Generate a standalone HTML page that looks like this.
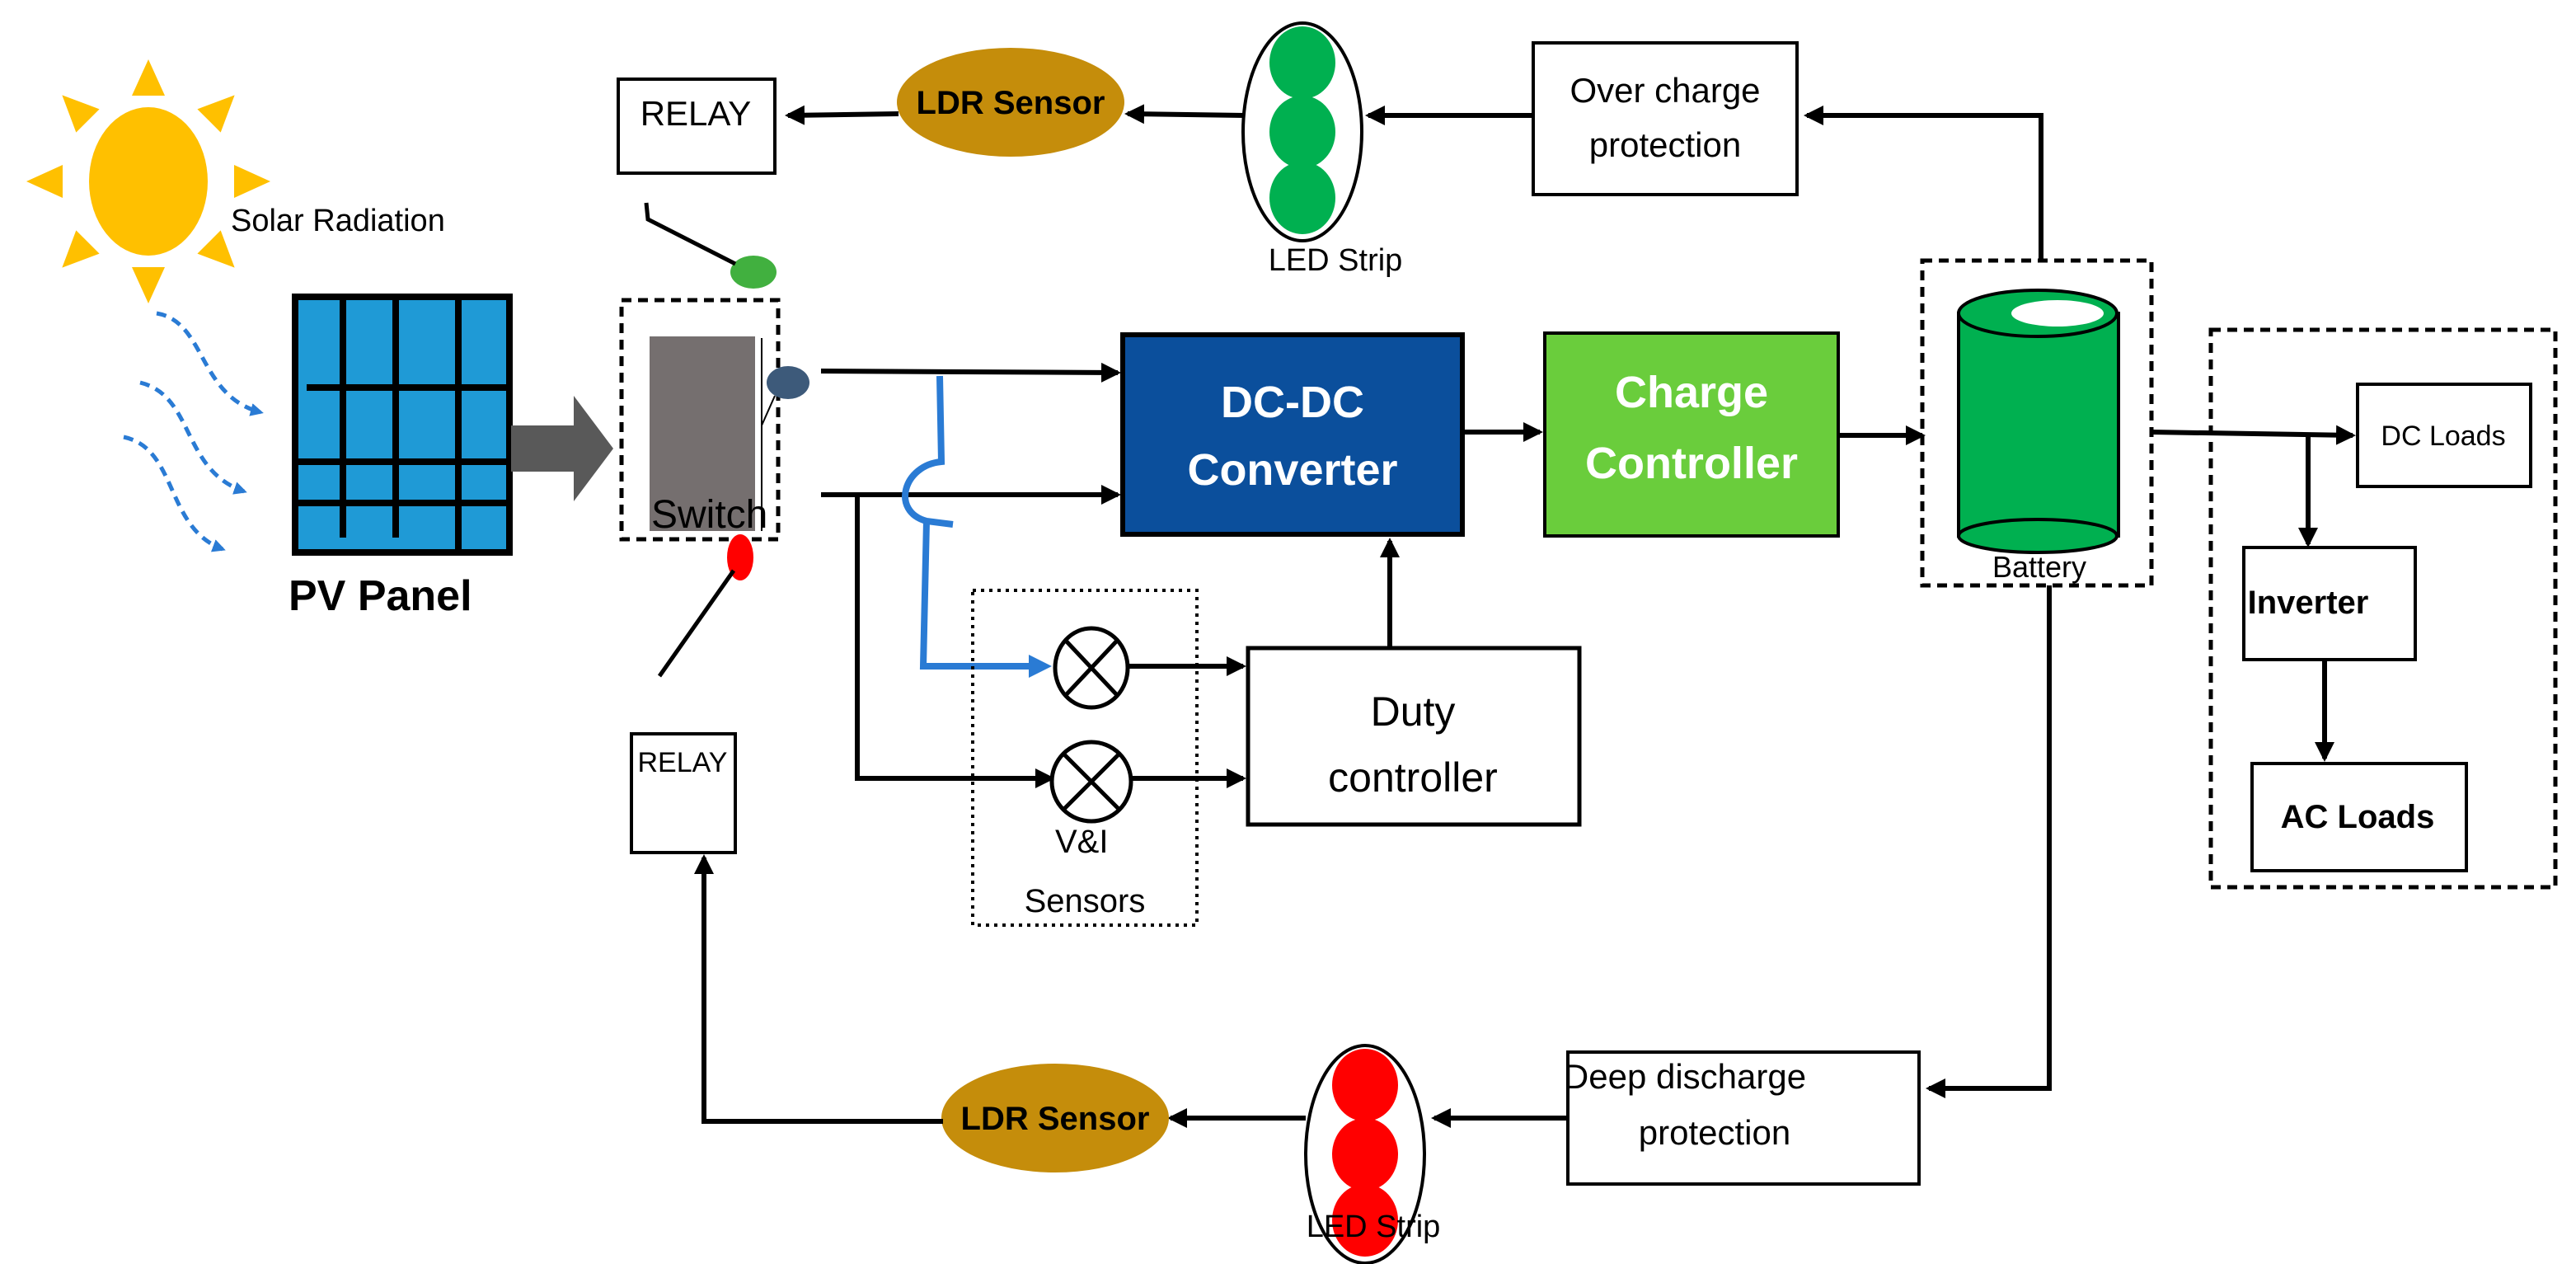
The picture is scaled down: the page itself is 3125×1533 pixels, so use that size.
<!DOCTYPE html>
<html><head><meta charset="utf-8"><style>
html,body{margin:0;padding:0;background:#fff;}
svg{display:block;}
text{font-family:"Liberation Sans",sans-serif;}
</style></head><body>
<svg width="3125" height="1533" viewBox="0 0 1562.5 766.5" xmlns="http://www.w3.org/2000/svg">
<defs>
<marker id="a2" markerWidth="12" markerHeight="12" refX="10" refY="6" orient="auto" markerUnits="userSpaceOnUse"><path d="M0,0 L12,6 L0,12 Z" fill="#000"/></marker>
<marker id="ab" markerWidth="14" markerHeight="14" refX="10" refY="7" orient="auto" markerUnits="userSpaceOnUse"><path d="M0,0 L14,7 L0,14 Z" fill="#2a7bd4"/></marker>
<marker id="as" markerWidth="8" markerHeight="8" refX="6" refY="4" orient="auto" markerUnits="userSpaceOnUse"><path d="M0,0 L8,4 L0,8 Z" fill="#2a7bd4"/></marker>
</defs>
<!-- Sun -->
<g fill="#FFC000" transform="translate(90,110)">
<ellipse cx="0" cy="0" rx="36" ry="45"/>
<g id="ray"><polygon points="-10,-52 10,-52 0,-74"/></g>
<use href="#ray" transform="rotate(45)"/>
<use href="#ray" transform="rotate(90)"/>
<use href="#ray" transform="rotate(135)"/>
<use href="#ray" transform="rotate(180)"/>
<use href="#ray" transform="rotate(225)"/>
<use href="#ray" transform="rotate(270)"/>
<use href="#ray" transform="rotate(315)"/>
</g>
<text x="140" y="140" font-size="19">Solar Radiation</text>
<!-- radiation waves -->
<g fill="none" stroke="#2a7bd4" stroke-width="2.5" stroke-dasharray="6,4" marker-end="url(#as)">
<path d="M95,190 C125,195 120,240 158,250"/>
<path d="M85,232 C118,240 110,285 148,298"/>
<path d="M75,265 C108,272 100,320 135,333"/>
</g>
<!-- PV panel -->
<rect x="179" y="180" width="130" height="155" fill="#1f9ad6" stroke="#000" stroke-width="4"/>
<g stroke="#000" stroke-width="4">
<line x1="208" y1="182" x2="208" y2="326"/><line x1="240" y1="182" x2="240" y2="326"/><line x1="278" y1="182" x2="278" y2="333"/>
<line x1="186" y1="235" x2="307" y2="235"/><line x1="177" y1="280" x2="307" y2="280"/><line x1="177" y1="305" x2="307" y2="305"/><line x1="177" y1="313" x2="300" y2="313" stroke-width="0"/>
</g>
<text x="175" y="370" font-size="26" font-weight="bold">PV Panel</text>
<!-- big gray arrow -->
<polygon points="310,258 348,258 348,240 372,272 348,304 348,286 310,286" fill="#595959"/>
<!-- Switch -->
<rect x="377" y="182" width="95" height="145" fill="none" stroke="#000" stroke-width="2.5" stroke-dasharray="6,4"/>
<rect x="394" y="204" width="64" height="118" fill="#756f6f"/>
<line x1="462" y1="205" x2="462" y2="322" stroke="#000" stroke-width="1"/>
<ellipse cx="478" cy="232" rx="13" ry="10" fill="#3d5a7a"/>
<line x1="470" y1="240" x2="462" y2="258" stroke="#000" stroke-width="1"/>
<text x="395" y="320" font-size="24">Switch</text>
<ellipse cx="457" cy="165" rx="14" ry="10" fill="#41b03f"/>
<ellipse cx="449" cy="338" rx="8" ry="14" fill="#ff0000"/>
<!-- relays -->
<rect x="375" y="48" width="95" height="57" fill="#fff" stroke="#000" stroke-width="2"/>
<text x="422" y="76" font-size="21" text-anchor="middle">RELAY</text>
<path d="M392,123 L393,133 L446,160" fill="none" stroke="#000" stroke-width="2.5"/>
<rect x="383" y="445" width="63" height="72" fill="#fff" stroke="#000" stroke-width="2"/>
<text x="414" y="468" font-size="17" text-anchor="middle">RELAY</text>
<line x1="445" y1="346" x2="400" y2="410" stroke="#000" stroke-width="2.5"/>
<!-- LDR top -->
<line x1="545" y1="69" x2="478" y2="70" stroke="#000" stroke-width="3" marker-end="url(#a2)"/>
<ellipse cx="613" cy="62" rx="69" ry="33" fill="#c58d0b"/>
<text x="613" y="69" font-size="20" font-weight="bold" text-anchor="middle">LDR Sensor</text>
<line x1="755" y1="70" x2="684" y2="69" stroke="#000" stroke-width="3" marker-end="url(#a2)"/>
<!-- LED strip top -->
<ellipse cx="790" cy="80" rx="36" ry="66" fill="#fff" stroke="#000" stroke-width="2"/>
<ellipse cx="790" cy="38" rx="20" ry="22" fill="#00b050"/>
<ellipse cx="790" cy="80" rx="20" ry="22" fill="#00b050"/>
<ellipse cx="790" cy="120" rx="20" ry="22" fill="#00b050"/>
<text x="810" y="164" font-size="19" text-anchor="middle">LED Strip</text>
<line x1="930" y1="70" x2="830" y2="70" stroke="#000" stroke-width="3" marker-end="url(#a2)"/>
<!-- Over charge -->
<rect x="930" y="26" width="160" height="92" fill="#fff" stroke="#000" stroke-width="2"/>
<text x="1010" y="62" font-size="21" text-anchor="middle">Over charge</text>
<text x="1010" y="95" font-size="21" text-anchor="middle">protection</text>
<path d="M1238,158 L1238,70 L1096,70" fill="none" stroke="#000" stroke-width="3" marker-end="url(#a2)"/>
<!-- main lines -->
<path d="M498,225 L678,226" stroke="#000" stroke-width="3" fill="none" marker-end="url(#a2)"/>
<path d="M498,300 L678,300" stroke="#000" stroke-width="3" fill="none" marker-end="url(#a2)"/>
<path d="M520,300 L520,472 L638,472" stroke="#000" stroke-width="3" fill="none" marker-end="url(#a2)"/>
<path d="M570,228 L571,280 C548,282 540,310 562,316 L578,318 M562,316 L560,404 L634,404" stroke="#2a7bd4" stroke-width="4" fill="none" marker-end="url(#ab)"/>
<!-- V&I box -->
<rect x="590" y="358" width="136" height="203" fill="none" stroke="#000" stroke-width="2" stroke-dasharray="2,3"/>
<g fill="#fff" stroke="#000" stroke-width="2.5">
<ellipse cx="662" cy="405" rx="22" ry="24"/><line x1="646" y1="388" x2="678" y2="422"/><line x1="678" y1="388" x2="646" y2="422"/>
<ellipse cx="662" cy="474" rx="24" ry="24"/><line x1="645" y1="457" x2="679" y2="491"/><line x1="679" y1="457" x2="645" y2="491"/>
</g>
<text x="640" y="517" font-size="20">V&amp;I</text>
<text x="658" y="553" font-size="20" text-anchor="middle">Sensors</text>
<line x1="684" y1="404" x2="754" y2="404" stroke="#000" stroke-width="3" marker-end="url(#a2)"/>
<line x1="686" y1="472" x2="754" y2="472" stroke="#000" stroke-width="3" marker-end="url(#a2)"/>
<!-- Duty controller -->
<rect x="757" y="393" width="201" height="107" fill="#fff" stroke="#000" stroke-width="2.5"/>
<text x="857" y="440" font-size="25" text-anchor="middle">Duty</text>
<text x="857" y="480" font-size="25" text-anchor="middle">controller</text>
<line x1="843" y1="393" x2="843" y2="328" stroke="#000" stroke-width="3" marker-end="url(#a2)"/>
<!-- DC-DC -->
<rect x="681" y="203" width="206" height="121" fill="#0b4f9c" stroke="#000" stroke-width="3"/>
<text x="784" y="253" font-size="27" font-weight="bold" fill="#fff" text-anchor="middle">DC-DC</text>
<text x="784" y="294" font-size="27" font-weight="bold" fill="#fff" text-anchor="middle">Converter</text>
<line x1="888" y1="262" x2="934" y2="262" stroke="#000" stroke-width="3" marker-end="url(#a2)"/>
<!-- Charge controller -->
<rect x="937" y="202" width="178" height="123" fill="#6acd3c" stroke="#000" stroke-width="2"/>
<text x="1026" y="247" font-size="27" font-weight="bold" fill="#fff" text-anchor="middle">Charge</text>
<text x="1026" y="290" font-size="27" font-weight="bold" fill="#fff" text-anchor="middle">Controller</text>
<line x1="1115" y1="264" x2="1166" y2="264" stroke="#000" stroke-width="3" marker-end="url(#a2)"/>
<!-- Battery -->
<rect x="1166" y="158" width="139" height="197" fill="none" stroke="#000" stroke-width="2.5" stroke-dasharray="6,4"/>
<rect x="1188" y="190" width="97" height="135" fill="#00b050" stroke="#000" stroke-width="2"/>
<ellipse cx="1236" cy="325" rx="48" ry="10" fill="#00b050" stroke="#000" stroke-width="2"/>
<ellipse cx="1236" cy="190" rx="48" ry="14" fill="#00b050" stroke="#000" stroke-width="2"/>
<ellipse cx="1248" cy="190" rx="28" ry="8" fill="#fff"/>
<text x="1237" y="350" font-size="18" text-anchor="middle">Battery</text>
<path d="M1243,355 L1243,660 L1170,660" fill="none" stroke="#000" stroke-width="3" marker-end="url(#a2)"/>
<!-- Loads -->
<rect x="1341" y="200" width="209" height="338" fill="none" stroke="#000" stroke-width="2.5" stroke-dasharray="6,4"/>
<path d="M1305,262 L1427,264" stroke="#000" stroke-width="3" fill="none" marker-end="url(#a2)"/>
<path d="M1400,263 L1400,330" stroke="#000" stroke-width="3" fill="none" marker-end="url(#a2)"/>
<rect x="1430" y="233" width="105" height="62" fill="#fff" stroke="#000" stroke-width="2"/>
<text x="1482" y="270" font-size="17" text-anchor="middle">DC Loads</text>
<rect x="1361" y="332" width="104" height="68" fill="#fff" stroke="#000" stroke-width="2"/>
<text x="1400" y="372" font-size="20" font-weight="bold" text-anchor="middle">Inverter</text>
<line x1="1410" y1="400" x2="1410" y2="460" stroke="#000" stroke-width="3" marker-end="url(#a2)"/>
<rect x="1366" y="463" width="130" height="65" fill="#fff" stroke="#000" stroke-width="2"/>
<text x="1430" y="502" font-size="20" font-weight="bold" text-anchor="middle">AC Loads</text>
<!-- Deep discharge -->
<rect x="951" y="638" width="213" height="80" fill="#fff" stroke="#000" stroke-width="2"/>
<text x="1022" y="660" font-size="21" text-anchor="middle">Deep discharge</text>
<text x="1040" y="694" font-size="21" text-anchor="middle">protection</text>
<line x1="951" y1="678" x2="870" y2="678" stroke="#000" stroke-width="3" marker-end="url(#a2)"/>
<ellipse cx="828" cy="700" rx="36" ry="66" fill="#fff" stroke="#000" stroke-width="2"/>
<ellipse cx="828" cy="658" rx="20" ry="22" fill="#ff0000"/>
<ellipse cx="828" cy="700" rx="20" ry="22" fill="#ff0000"/>
<ellipse cx="828" cy="740" rx="20" ry="22" fill="#ff0000"/>
<text x="833" y="750" font-size="19" text-anchor="middle">LED Strip</text>
<line x1="792" y1="678" x2="710" y2="678" stroke="#000" stroke-width="3" marker-end="url(#a2)"/>
<ellipse cx="640" cy="678" rx="69" ry="33" fill="#c58d0b"/>
<text x="640" y="685" font-size="20" font-weight="bold" text-anchor="middle">LDR Sensor</text>
<path d="M572,680 L427,680 L427,520" fill="none" stroke="#000" stroke-width="3" marker-end="url(#a2)"/>
</svg>
</body></html>
